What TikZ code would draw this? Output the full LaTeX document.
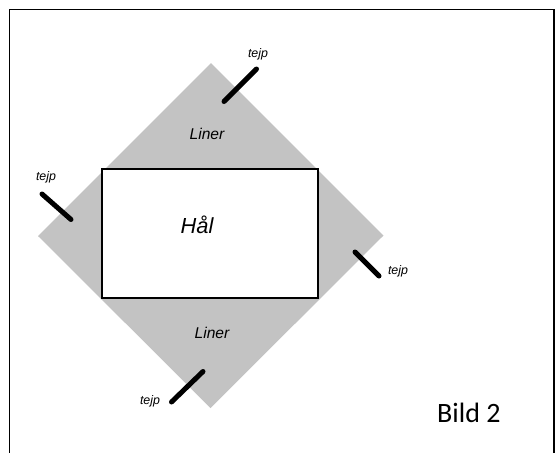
\documentclass[tikz,border=0pt]{standalone}
\usepackage{fontspec}
\setmainfont{Liberation Sans}
\newfontfamily\bildfont{Carlito}
\definecolor{linergray}{RGB}{195,195,195}
\tikzset{
  tape/.style={line width=5pt,line cap=round},
  tejplbl/.style={anchor=base,inner sep=0pt,font=\itshape\fontsize{12.4}{14}\selectfont},
  linerlbl/.style={anchor=base,inner sep=0pt,font=\itshape\fontsize{15.6}{18}\selectfont}
}
\begin{document}
\begin{tikzpicture}[x=1pt,y=-1pt]
  \useasboundingbox (0,0) rectangle (555,453);
  % frame
  \draw[line width=1.5pt] (9.5,460) -- (9.5,9.5) -- (554,9.5) -- (554,460);
  % liner
  \fill[linergray] (211,63) coordinate (top) -- (383.5,235.5) coordinate (right)
    -- (210.5,408) coordinate (bottom) -- (38,236) coordinate (left) -- cycle;
  % hole
  \draw[line width=2pt,fill=white] (102,168.5) coordinate (hsw) rectangle (318,298) coordinate (hne);
  \node[anchor=base,inner sep=0pt,font=\itshape\fontsize{21.8}{26}\selectfont] (hal) at (197,233) {Hål};
  \node[linerlbl] (liner1) at (207,139) {Liner};
  \node[linerlbl] (liner2) at (212,338) {Liner};
  % tape
  \coordinate (t1a) at (224,101.5); \coordinate (t1b) at (256.5,69);
  \coordinate (t2a) at (42,194);    \coordinate (t2b) at (71,219.5);
  \coordinate (t3a) at (355,252);   \coordinate (t3b) at (379,276);
  \coordinate (t4a) at (171.5,402); \coordinate (t4b) at (203,371.5);
  \begin{scope}[tape]
    \draw (t1a) -- (t1b);
    \draw (t2a) -- (t2b);
    \draw (t3a) -- (t3b);
    \draw (t4a) -- (t4b);
  \end{scope}
  \node[tejplbl] (tejp1) at (258,57) {tejp};
  \node[tejplbl] (tejp2) at (46,180) {tejp};
  \node[tejplbl] (tejp3) at (398,274) {tejp};
  \node[tejplbl] (tejp4) at (150,404) {tejp};
  \node[anchor=base west,inner sep=0pt,font=\bildfont\fontsize{28}{32}\selectfont] (bild) at (437,422) {Bild 2};
\end{tikzpicture}
\end{document}
